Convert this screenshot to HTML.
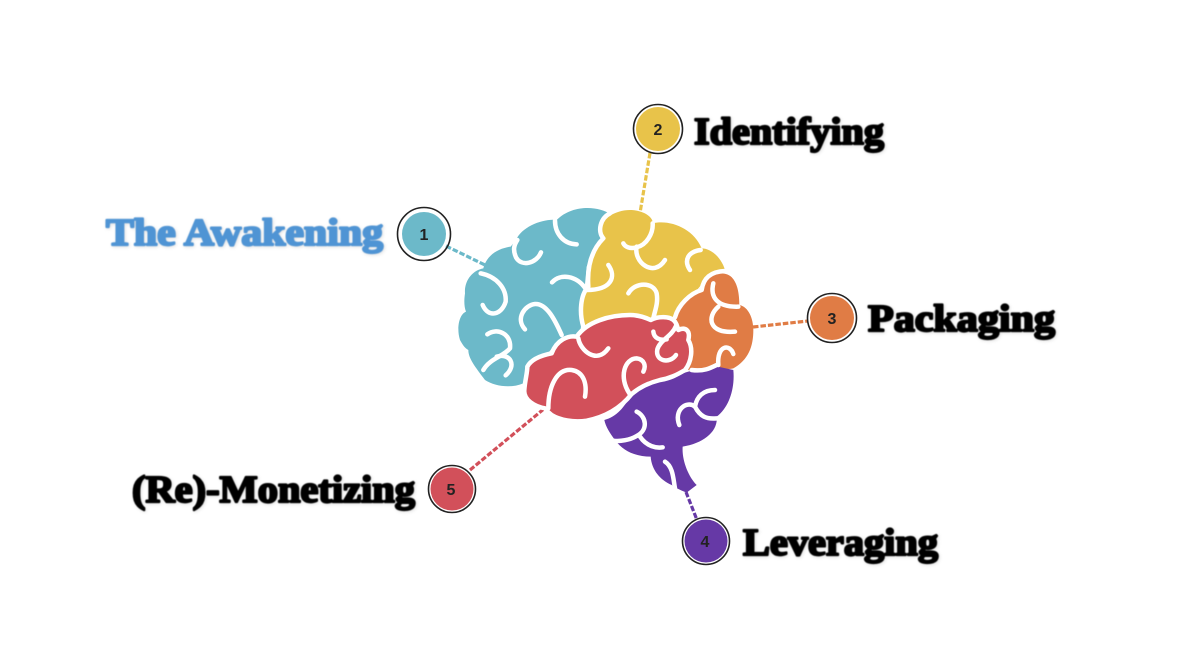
<!DOCTYPE html>
<html><head><meta charset="utf-8">
<style>
html,body{margin:0;padding:0;background:#fff;width:1200px;height:668px;overflow:hidden}
svg{display:block}
.l{font-family:"Liberation Serif",serif;font-weight:700;font-size:38px;stroke-width:2.2px;stroke-linejoin:round;filter:blur(.4px) drop-shadow(1px 1.5px 1.5px rgba(0,0,0,.12))}
.n{font-family:"Liberation Sans",sans-serif;font-weight:700;font-size:16px;text-anchor:middle;fill:#222;filter:blur(.3px)}
</style></head>
<body>
<svg width="1200" height="668" viewBox="0 0 1200 668" xmlns="http://www.w3.org/2000/svg">
<g stroke-width="3.2" stroke-dasharray="5.5 2" fill="none" style="filter:blur(.3px)">
<line x1="446" y1="246" x2="487" y2="266" stroke="#6cb9c9"/>
<line x1="650" y1="153" x2="640" y2="213" stroke="#e8c34a"/>
<line x1="753" y1="327" x2="808" y2="321" stroke="#e07c45"/>
<line x1="686" y1="492" x2="697" y2="520" stroke="#6639a6"/>
<line x1="470" y1="470" x2="545" y2="408" stroke="#d2505a"/>
</g>
<g transform="translate(440,190) scale(.33333)" stroke="#fff" stroke-width="13.5" stroke-linejoin="round" stroke-linecap="round" style="filter:blur(.9px)">
<path fill="#6cb9c9" stroke="none" d="M510,72 C480,50 400,40 350,90 C310,85 245,110 228,150 L212,170 C175,175 140,195 130,235 C100,240 72,270 75,310 C72,330 72,350 78,365 C55,375 50,420 60,450 C68,465 75,475 85,480 C85,505 105,530 135,570 C165,590 215,595 250,580 L340,470 L420,440 L440,230 L490,140 Z"/>
<path fill="#e8c34a" stroke="none" d="M480,125 C480,85 530,58 575,60 C610,62 640,80 638,100 C690,88 760,115 785,175 C815,175 845,205 855,240 L800,265 L700,385 L430,420 C420,405 415,385 425,372 C420,345 425,320 432,308 C440,300 445,290 445,255 C445,215 465,170 490,150 C480,145 478,135 480,125 Z"/>
<path fill="#e07c45" stroke="none" d="M790,270 C805,250 860,240 878,265 C895,285 898,320 898,345 C925,350 940,385 940,420 C940,470 925,510 880,535 C860,540 840,535 825,528 C805,540 770,550 745,540 L700,380 C715,360 730,330 745,320 C760,305 780,310 790,270 Z"/>
<path fill="#6639a6" stroke="none" d="M572,615 L660,570 L745,545 L825,528 L880,540 C885,590 870,650 830,680 C835,725 790,760 728,770 C725,810 745,860 770,885 L740,908 C720,900 700,890 695,885 C660,870 635,840 632,800 C590,800 550,785 525,750 C510,730 497,710 493,690 C530,680 555,650 572,615 Z"/>
<path fill="#d2505a" d="M253,600 C255,570 262,550 262,530 C275,505 310,495 335,490 C350,450 385,435 410,440 C440,395 510,375 570,375 C595,375 615,382 632,390 C650,380 690,375 705,395 C712,405 712,412 715,420 C735,410 752,420 745,450 C760,475 755,515 735,540 C710,555 690,565 660,570 C620,580 595,595 575,612 C545,650 500,680 440,692 C400,698 360,690 335,675 C322,665 318,660 315,655 C285,650 250,630 253,600 Z"/>
<g fill="none">
<path d="M510,70 C480,85 472,125 490,145 C460,175 440,220 445,290 C420,315 418,370 430,410"/>
<path d="M638,100 C640,130 620,165 590,172 C570,178 555,170 550,160"/>
<path d="M590,170 C580,215 640,265 675,210"/>
<path d="M782,180 C745,185 730,210 750,240"/>
<path d="M505,225 C530,260 515,300 440,300"/>
<path d="M565,310 C585,275 640,275 650,310 C655,340 645,360 640,385"/>
<path d="M855,243 C810,245 790,265 785,300 C750,310 715,345 705,382"/>
<path d="M345,92 C345,130 370,162 410,163"/>
<path d="M303,187 C290,220 245,232 228,202 C218,180 222,165 232,150"/>
<path d="M336,277 C360,250 410,255 438,298"/>
<path d="M365,435 C345,390 320,340 285,342 C255,345 225,385 255,418"/>
<path d="M122,250 C170,260 200,295 197,335 C185,375 145,385 128,345"/>
<path d="M142,433 C170,412 215,430 210,475 C190,500 150,505 130,540"/>
<path d="M170,500 C210,488 232,525 197,556"/>
<path d="M415,445 C420,480 470,525 505,475"/>
<path d="M325,655 C325,590 350,535 395,540 C430,545 442,580 435,620"/>
<path d="M568,610 C535,560 555,505 590,505 C615,508 618,530 610,545"/>
<path d="M640,425 C642,445 660,452 680,448"/>
<path d="M708,408 C695,440 660,450 652,478 C645,515 690,522 708,495"/>
<path d="M820,280 C810,320 830,352 895,350"/>
<path d="M835,350 C800,380 805,432 885,425"/>
<path d="M880,492 C870,460 830,465 835,525"/>
<path d="M755,540 C790,545 810,535 830,525"/>
<path d="M590,665 C620,680 625,720 590,738 C570,750 540,755 520,752"/>
<path d="M600,740 C620,770 650,775 668,772"/>
<path d="M825,600 C790,600 770,620 765,650 C740,630 700,660 718,705"/>
<path d="M765,650 C780,680 800,688 830,685"/>
<path d="M675,815 C700,830 700,870 705,895"/>
</g>
</g>
<g fill="none" stroke="#222" stroke-width="1.6">
<circle cx="424" cy="234" r="26.5"/><circle cx="658" cy="129" r="24.5"/><circle cx="832" cy="318" r="24.5"/><circle cx="706" cy="541" r="23.5"/><circle cx="452" cy="489" r="23.5"/>
</g>
<circle cx="424" cy="234" r="22" fill="#6cb9c9"/>
<circle cx="658" cy="129" r="22" fill="#e8c34a"/>
<circle cx="832" cy="318" r="22" fill="#e07c45"/>
<circle cx="706" cy="541" r="21.5" fill="#6639a6"/>
<circle cx="452" cy="489" r="21.5" fill="#d2505a"/>
<text class="n" x="424" y="240">1</text>
<text class="n" x="658" y="135">2</text>
<text class="n" x="832" y="324">3</text>
<text class="n" x="705" y="547">4</text>
<text class="n" x="451" y="495">5</text>
<text class="l" x="106" y="245" textLength="277" lengthAdjust="spacingAndGlyphs" fill="#4f94d4" stroke="#4f94d4">The Awakening</text>
<text class="l" x="694" y="144" textLength="190" lengthAdjust="spacingAndGlyphs" fill="#000" stroke="#000">Identifying</text>
<text class="l" x="868" y="331" textLength="187" lengthAdjust="spacingAndGlyphs" fill="#000" stroke="#000">Packaging</text>
<text class="l" x="743" y="555" textLength="195" lengthAdjust="spacingAndGlyphs" fill="#000" stroke="#000">Leveraging</text>
<text class="l" x="132" y="502" textLength="283" lengthAdjust="spacingAndGlyphs" fill="#000" stroke="#000">(Re)-Monetizing</text>
</svg>
</body></html>
